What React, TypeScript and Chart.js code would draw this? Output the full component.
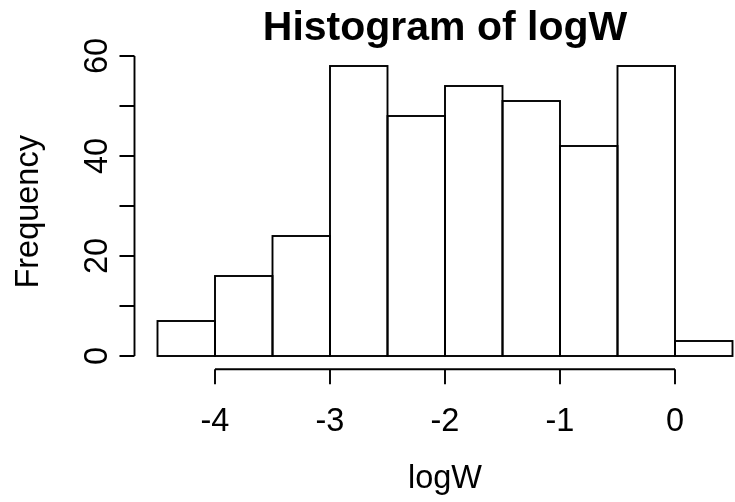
import React, { useEffect, useRef } from "react";
import { Chart, registerables } from "chart.js";

Chart.register(...registerables);

// Histogram bins (centres of 0.5-wide bins) and their counts
const binCenters = [-4.25, -3.75, -3.25, -2.75, -2.25, -1.75, -1.25, -0.75, -0.25, 0.25];
const counts = [7, 16, 24, 58, 48, 54, 51, 42, 58, 3];

// Axis ticks and labels
const xTicks = [-4, -3, -2, -1, 0];
const xTickLabels = ["-4", "-3", "-2", "-1", "0"];
const yTicks = [0, 10, 20, 30, 40, 50, 60];
const yLabelTicks = [0, 20, 40, 60];
const yTickLabels = ["0", "20", "40", "60"];

const titleText = "Histogram of logW";
const xTitle = "logW";
const yTitle = "Frequency";

const FONT = '"Liberation Sans", Arial, Helvetica, sans-serif';

const rAxesPlugin = {
  id: "rAxes",
  beforeDraw(chart: any) {
    const ctx = chart.ctx;
    ctx.save();
    ctx.fillStyle = "#ffffff";
    ctx.fillRect(0, 0, chart.width, chart.height);
    ctx.restore();
  },
  afterDatasetsDraw(chart: any) {
    const ctx = chart.ctx;
    const meta = chart.getDatasetMeta(0);
    ctx.save();
    ctx.strokeStyle = "#000000";
    ctx.lineWidth = 1.9;
    meta.data.forEach((el: any) => {
      const p = el.getProps(["x", "y", "base", "width"], true);
      const left = p.x - p.width / 2;
      const top = Math.min(p.y, p.base);
      const h = Math.abs(p.base - p.y);
      ctx.strokeRect(left, top, p.width, h);
    });
    ctx.restore();
  },
  afterDraw(chart: any) {
    const ctx = chart.ctx;
    const xs = chart.scales.x;
    const ys = chart.scales.y;
    const area = chart.chartArea;
    const tick = 15;
    ctx.save();
    ctx.strokeStyle = "#000000";
    ctx.fillStyle = "#000000";
    ctx.lineWidth = 1.9;

    // y axis
    const yx = area.left;
    ctx.beginPath();
    ctx.moveTo(yx, ys.getPixelForValue(yTicks[0]));
    ctx.lineTo(yx, ys.getPixelForValue(yTicks[yTicks.length - 1]));
    yTicks.forEach((v) => {
      const py = ys.getPixelForValue(v);
      ctx.moveTo(yx, py);
      ctx.lineTo(yx - tick, py);
    });
    ctx.stroke();
    ctx.font = `32.5px ${FONT}`;
    ctx.textAlign = "center";
    ctx.textBaseline = "alphabetic";
    yLabelTicks.forEach((v, i) => {
      const py = ys.getPixelForValue(v);
      ctx.save();
      ctx.translate(107, py);
      ctx.rotate(-Math.PI / 2);
      ctx.fillText(yTickLabels[i], 0, 0);
      ctx.restore();
    });

    // x axis
    const xy = area.bottom;
    ctx.beginPath();
    ctx.moveTo(xs.getPixelForValue(xTicks[0]), xy);
    ctx.lineTo(xs.getPixelForValue(xTicks[xTicks.length - 1]), xy);
    xTicks.forEach((v) => {
      const px = xs.getPixelForValue(v);
      ctx.moveTo(px, xy);
      ctx.lineTo(px, xy + tick);
    });
    ctx.stroke();
    xTicks.forEach((v, i) => {
      const px = xs.getPixelForValue(v);
      ctx.fillText(xTickLabels[i], px, 431);
    });

    // titles
    const cx = xs.getPixelForValue(-2);
    ctx.fillText(xTitle, cx, 488);
    ctx.save();
    ctx.translate(38, (area.top + area.bottom) / 2);
    ctx.rotate(-Math.PI / 2);
    ctx.fillText(yTitle, 0, 0);
    ctx.restore();
    ctx.font = `bold 41px ${FONT}`;
    ctx.fillText(titleText, cx, 40);
    ctx.restore();
  },
};

export default function App() {
  const ref = useRef<HTMLCanvasElement | null>(null);
  useEffect(() => {
    document.body.style.margin = "0";
    const canvas = ref.current;
    if (!canvas) return;
    const chart = new Chart(canvas, {
      type: "bar",
      data: {
        datasets: [
          {
            data: binCenters.map((x, i) => ({ x, y: counts[i] })),
            backgroundColor: "#ffffff",
            borderWidth: 0,
            barPercentage: 1,
            categoryPercentage: 1,
          },
        ],
      },
      options: {
        animation: false,
        responsive: false,
        maintainAspectRatio: false,
        devicePixelRatio: 1,
        layout: { padding: { left: 134.5, right: 0, top: 54.4, bottom: 132.7 } },
        plugins: {
          legend: { display: false },
          title: { display: false },
          tooltip: { enabled: false },
        },
        scales: {
          x: { type: "linear", min: -4.7, max: 60 / 115, offset: false, display: false },
          y: { type: "linear", min: -2.66, max: 60.32, display: false },
        },
      },
      plugins: [rAxesPlugin],
    });
    return () => chart.destroy();
  }, []);
  return (
    <div style={{ width: 735, height: 502 }}>
      <canvas ref={ref} width={735} height={502} style={{ display: "block" }} />
    </div>
  );
}
